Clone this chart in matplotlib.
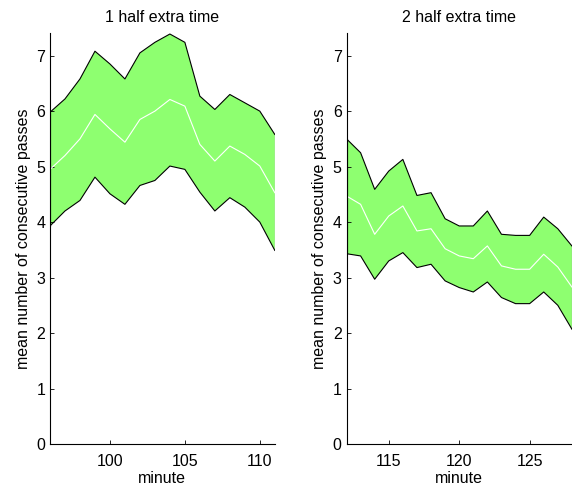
import numpy as np
from matplotlib import pyplot as plt

plt.rcParams['font.family'] = ['Liberation Sans', 'DejaVu Sans']
plt.rcParams['font.size'] = 11.5

# first half of extra time
min1 = list(range(96, 112))
upper1 = [5.98, 6.22, 6.58, 7.08, 6.85, 6.58, 7.05, 7.24, 7.39, 7.24, 6.27, 6.03, 6.30, 6.15, 6.00, 5.58]
mean1 = [4.95, 5.20, 5.50, 5.94, 5.68, 5.44, 5.85, 6.00, 6.21, 6.09, 5.40, 5.10, 5.37, 5.22, 5.01, 4.53]
lower1 = [3.93, 4.20, 4.39, 4.81, 4.51, 4.32, 4.66, 4.75, 5.01, 4.95, 4.54, 4.20, 4.44, 4.27, 4.00, 3.49]

# second half of extra time
min2 = list(range(112, 129))
upper2 = [5.50, 5.25, 4.59, 4.92, 5.13, 4.48, 4.53, 4.06, 3.93, 3.93, 4.20, 3.78, 3.76, 3.76, 4.09, 3.88, 3.57]
mean2 = [4.47, 4.32, 3.78, 4.11, 4.29, 3.84, 3.88, 3.52, 3.39, 3.34, 3.57, 3.21, 3.15, 3.15, 3.42, 3.19, 2.83]
lower2 = [3.43, 3.39, 2.97, 3.30, 3.45, 3.18, 3.24, 2.94, 2.82, 2.74, 2.92, 2.64, 2.53, 2.53, 2.74, 2.50, 2.07]

titles = ['1 half extra time', '2 half extra time']
green = '#8eff70'

fig = plt.figure(figsize=(5.72, 4.87), dpi=100)
ax1 = fig.add_axes([0.0874, 0.0883, 0.393, 0.843])
ax2 = fig.add_axes([0.6058, 0.0883, 0.394, 0.843])

panels = [(ax1, min1, upper1, mean1, lower1, [100, 105, 110]),
          (ax2, min2, upper2, mean2, lower2, [115, 120, 125])]

for i, (ax, m, up, mn, lo, xt) in enumerate(panels):
    ax.fill_between(m, lo, up, facecolor=green, edgecolor='none')
    ax.plot(m, up, color='k', lw=0.8)
    ax.plot(m, lo, color='k', lw=0.8)
    ax.plot([m[0], m[0]], [lo[0], up[0]], color='k', lw=0.8)
    ax.plot([m[-1], m[-1]], [lo[-1], up[-1]], color='k', lw=0.8)
    ax.plot(m, mn, color='white', lw=0.8)
    ax.set_xlim(m[0], m[-1])
    ax.set_ylim(0, 7.4)
    ax.set_xticks(xt)
    ax.set_yticks(range(8))
    ax.spines['top'].set_visible(False)
    ax.spines['right'].set_visible(False)
    ax.tick_params(direction='in', length=3, width=0.6)
    ax.tick_params(axis='x', pad=7)
    ax.set_xlabel('minute', labelpad=2)
    ax.set_ylabel('mean number of consecutive passes')
    ax.set_title(titles[i], fontsize=11.5, pad=8)

plt.savefig('out.png', dpi=100)
